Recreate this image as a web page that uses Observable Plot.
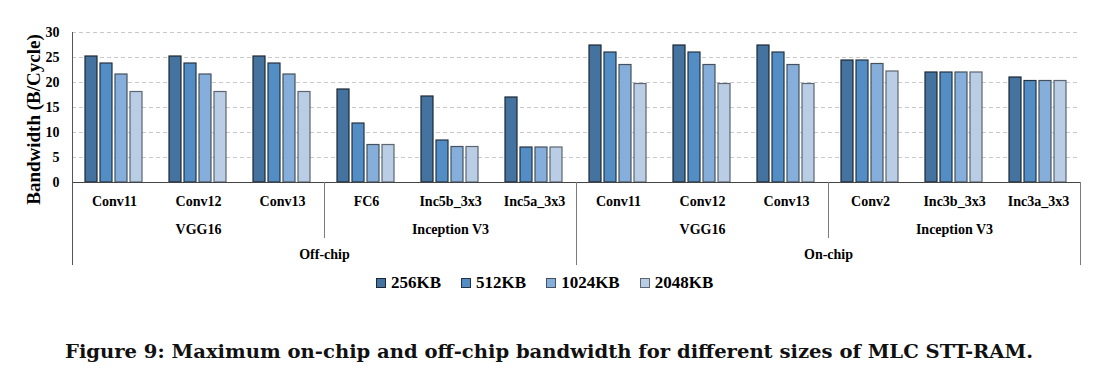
<!DOCTYPE html>
<html>
<head>
<meta charset="utf-8">
<script src="https://cdn.jsdelivr.net/npm/d3@7"></script>
<script src="https://cdn.jsdelivr.net/npm/@observablehq/plot@0.6"></script>
<style>
  body { margin: 0; background: #fff; }
  #legend { position: relative; height: 26px; font-family: "Liberation Serif", "Times New Roman", serif; font-weight: bold; font-size: 17px; color: #000; }
  #legend .items { position: absolute; left: 376px; top: 0; height: 26px; display: flex; align-items: center; }
  #legend .item { display: flex; align-items: center; margin-right: 20px; }
  #legend .sw { width: 8px; height: 8px; border: 1px solid #2a2f36; margin-right: 5px; }
  #caption { display: block; }
</style>
</head>
<body>
<div id="chart"></div>
<div id="legend"></div>
<svg id="caption" width="1106" height="89"></svg>
<script>
// ---- data ----
const locations = ["Off-chip","Off-chip","Off-chip","Off-chip","Off-chip","Off-chip","On-chip","On-chip","On-chip","On-chip","On-chip","On-chip"];
const networks  = ["VGG16","VGG16","VGG16","Inception V3","Inception V3","Inception V3","VGG16","VGG16","VGG16","Inception V3","Inception V3","Inception V3"];
const layers    = ["Conv11","Conv12","Conv13","FC6","Inc5b_3x3","Inc5a_3x3","Conv11","Conv12","Conv13","Conv2","Inc3b_3x3","Inc3a_3x3"];
const sizes     = ["256KB","512KB","1024KB","2048KB"];
const bw256  = [25.2,25.2,25.2,18.6,17.2,17.0,27.4,27.4,27.4,24.4,22.0,21.0];
const bw512  = [23.8,23.8,23.8,11.8, 8.4, 7.0,26.0,26.0,26.0,24.4,22.0,20.3];
const bw1024 = [21.6,21.6,21.6, 7.5, 7.1, 7.0,23.5,23.5,23.5,23.7,22.0,20.3];
const bw2048 = [18.1,18.1,18.1, 7.5, 7.1, 7.0,19.7,19.7,19.7,22.2,22.0,20.3];
const yTicks = [0,5,10,15,20,25,30];
const yTitle = "Bandwidth (B/Cycle)";
const captionText = "Figure 9: Maximum on-chip and off-chip bandwidth for different sizes of MLC STT-RAM.";

// ---- styles ----
const fills   = ["#44739F","#538DC5","#86AEDB","#B9CDE5"];
const strokes = ["#1d2733","#26323f","#46505c","#5c6570"];
const FONT = "'Liberation Serif', 'Times New Roman', serif";
const CAPFONT = "'DejaVu Serif', serif";

// ---- derived tables ----
const keys = layers.map((l, i) => `${locations[i]}|${networks[i]}|${l}`);
const seriesValues = [bw256, bw512, bw1024, bw2048];
const rows = [];
keys.forEach((k, i) => sizes.forEach((s, j) => rows.push({key: k, size: s, value: seriesValues[j][i], stroke: strokes[j]})));
const cats = keys.map((k, i) => ({key: k, layer: layers[i]}));

function runs(arr) {
  const out = [];
  arr.forEach((v, i) => {
    if (i === 0 || arr[i - 1] !== v || (arr === networks && locations[i - 1] !== locations[i])) out.push({label: v, start: i, end: i});
    else out[out.length - 1].end = i;
  });
  return out;
}
const netRuns = runs(networks);
const locRuns = runs(locations);
const netLabels = netRuns.map(r => ({key: keys[Math.floor((r.start + r.end) / 2)], label: r.label}));
const locLabels = locRuns.map(r => ({key: keys[r.start + Math.floor((r.end - r.start + 1) / 2) - 1], label: r.label}));

const W = 1106, H = 270, ML = 72, MR = 26, MT = 32, MB = 88;
const plotH = H - MT - MB;
const sepColor = "#7a7a7a";

const separators = [];
locRuns.forEach(r => separators.push(Plot.frame({anchor: "left", fx: keys[r.start], insetTop: r.start === 0 ? 0 : plotH, insetBottom: -82, stroke: r.start === 0 ? "#555" : sepColor})));
separators.push(Plot.frame({anchor: "right", fx: keys[keys.length - 1], insetTop: plotH, insetBottom: -82, stroke: sepColor}));
netRuns.filter(r => !locRuns.some(l => l.start === r.start)).forEach(r =>
  separators.push(Plot.frame({anchor: "left", fx: keys[r.start], insetTop: plotH, insetBottom: -55, stroke: sepColor})));

const chart = Plot.plot({
  width: W, height: H,
  marginLeft: ML, marginRight: MR, marginTop: MT, marginBottom: MB,
  style: {fontFamily: FONT, background: "#fff", color: "#000"},
  fx: {domain: keys, padding: 0, axis: null},
  x: {domain: sizes, paddingInner: 0.19, paddingOuter: 0.86, axis: null},
  y: {domain: [0, 30]},
  color: {domain: sizes, range: fills},
  marks: [
    Plot.gridY(yTicks.filter(t => t > 0), {stroke: "#c9c9c9", strokeOpacity: 1, strokeDasharray: "4,3"}),
    Plot.barY(rows, {fx: "key", x: "size", y: "value", fill: "size", stroke: "stroke", strokeWidth: 1.2}),
    Plot.ruleY([0], {stroke: "#444", strokeWidth: 1.2}),
    ...separators,
    Plot.axisY({ticks: yTicks, tickSize: 0, tickPadding: 13, fontSize: 14, fontWeight: "bold", fontFamily: FONT, label: null}),
    Plot.text([{key: keys[0], t: yTitle}], {fx: "key", text: "t", frameAnchor: "left", textAnchor: "middle", lineAnchor: "middle", rotate: -90, dx: -39, dy: 12, fontSize: 19, fontWeight: "bold", fontFamily: FONT}),
    Plot.text(cats, {fx: "key", text: "layer", frameAnchor: "bottom", lineAnchor: "middle", dy: 19, fontSize: 14, fontWeight: "bold", fontFamily: FONT}),
    Plot.text(netLabels, {fx: "key", text: "label", frameAnchor: "bottom", lineAnchor: "middle", dy: 47, fontSize: 14, fontWeight: "bold", fontFamily: FONT}),
    Plot.text(locLabels, {fx: "key", text: "label", frameAnchor: "bottom-right", textAnchor: "middle", lineAnchor: "middle", dy: 72, fontSize: 14, fontWeight: "bold", fontFamily: FONT})
  ]
});
document.getElementById("chart").appendChild(chart);

// legend
const legend = document.getElementById("legend");
const items = document.createElement("div");
items.className = "items";
sizes.forEach((s, j) => {
  const it = document.createElement("div");
  it.className = "item";
  const sw = document.createElement("span");
  sw.className = "sw";
  sw.style.background = fills[j];
  sw.style.borderColor = strokes[j];
  const tx = document.createElement("span");
  tx.textContent = s;
  it.appendChild(sw); it.appendChild(tx);
  items.appendChild(it);
});
legend.appendChild(items);

// caption
const cap = d3.select("#caption");
cap.append("text")
  .attr("x", 65).attr("y", 62)
  .style("font-family", CAPFONT).attr("font-weight", "bold").attr("font-size", 18)
  .attr("textLength", 968).attr("lengthAdjust", "spacingAndGlyphs")
  .attr("fill", "#111")
  .text(captionText);
</script>
</body>
</html>
